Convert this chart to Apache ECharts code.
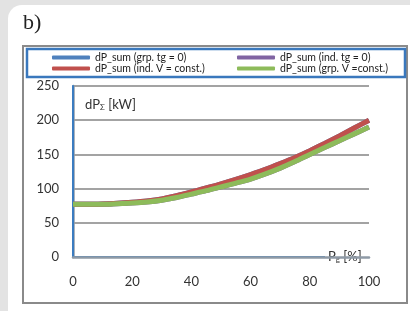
<!DOCTYPE html>
<html><head><meta charset="utf-8">
<script src="https://cdn.jsdelivr.net/npm/echarts@6/dist/echarts.min.js"></script>
<style>
html,body{margin:0;padding:0;background:#e3e3e3;width:410px;height:311px;overflow:hidden;}
#card{position:absolute;left:8px;top:5px;width:430px;height:340px;background:#fff;border-radius:14px;}
#c{position:absolute;left:0;top:0;width:410px;height:311px;}
</style></head>
<body><div id="card"></div><div id="c"></div>
<script>
const xValues = [0,5,10,15,20,25,30,35,40,45,50,55,60,65,70,75,80,85,90,95,100];
const grpTg0   = [77,77,77.5,78.5,80,82,85,89.5,95,101,107,113.5,120.5,128,136.5,145.5,155.5,166,177,188.5,200];
const indTg0   = [77,77,77,78,79,80.5,83,87,92,97,102.5,108,114,121.5,130,139.5,150,160,170,180,190];
const indVconst= [77,77,77.5,78.5,80,82,85,89.5,95,101,107,113.5,120.5,128,136.5,145.5,155.5,166,177,188.5,200];
const grpVconst= [77,77,77,78,79,80.5,83,87,92,97,102.5,108,114,121.5,130,139.5,150,160,170,180,190];
const seriesNames = ['dP_sum (grp. tg = 0)','dP_sum (ind. tg = 0)','dP_sum (ind. V = const.)','dP_sum (grp. V =const.)'];
const seriesColors = ['#4F81BD','#8064A2','#C0504D','#8DBB5A'];
const yTicks = [0,50,100,150,200,250];
const xTicks = [0,20,40,60,80,100];

const allData = [grpTg0, indTg0, indVconst, grpVconst];
const font = 'Lato';
const legPos = [[52,52],[237,52],[52,63],[237,63]];
const chart = echarts.init(document.getElementById('c'), null, {renderer:'canvas'});
chart.setOption({
  backgroundColor:'transparent',
  animation:false,
  textStyle:{fontFamily:font},
  grid:{left:73,right:41,top:86,bottom:54},
  legend: seriesNames.map((n,i)=>({
    data:[n],left:legPos[i][0],top:legPos[i][1],padding:0,itemWidth:38,itemHeight:4,icon:'roundRect',itemGap:0,
    textStyle:{fontSize:10.5,color:'#222',fontFamily:font,lineHeight:11}
  })),
  xAxis:[{
    type:'value',min:xTicks[0],max:xTicks[xTicks.length-1],interval:20,
    axisLine:{lineStyle:{color:'#8f9aa6',width:2.5}},
    axisTick:{show:false},splitLine:{show:false},
    axisLabel:{margin:18,fontSize:13,color:'#333',fontFamily:font},
    name:'{a|P}{s|g}{a| [%]}',nameLocation:'end',nameGap:-44,
    nameTextStyle:{backgroundColor:'#fff',padding:[4,30,4,3],
      rich:{a:{fontSize:13,color:'#333',fontFamily:font},s:{fontSize:8,color:'#333',fontFamily:font,verticalAlign:'bottom',padding:[5,0,0,0]}}},
    z:10
  },{
    type:'value',position:'top',min:0,max:100,
    axisLine:{show:true,lineStyle:{color:'#3b7cc0',width:2}},
    axisTick:{show:false},axisLabel:{show:false},splitLine:{show:false}
  }],
  yAxis:[{
    type:'value',min:yTicks[0],max:yTicks[yTicks.length-1],interval:50,
    axisLine:{show:true,lineStyle:{color:'#8f9aa6',width:2.5}},
    axisTick:{show:false},
    splitLine:{lineStyle:{color:'#a3a3a3',width:2}},
    axisLabel:{margin:14,fontSize:13,color:'#333',fontFamily:font},
    name:'{a|dP}{s|Σ}{a| [kW]}',nameLocation:'end',nameGap:-25,
    nameTextStyle:{align:'left',padding:[0,0,0,12],
      rich:{a:{fontSize:13,color:'#333',fontFamily:font},s:{fontSize:8,color:'#333',fontFamily:font,verticalAlign:'bottom',padding:[4,0,0,0]}}}
  },{
    type:'value',position:'right',min:0,max:250,z:1,
    axisLine:{show:true,lineStyle:{color:'#3b7cc0',width:2}},
    axisTick:{show:false},axisLabel:{show:false},splitLine:{show:false}
  }],
  graphic:[
    {type:'text',left:23,top:12,style:{text:'b)',font:'22px "Liberation Serif"',fill:'#222'}},
    {type:'rect',shape:{x:23,y:46,width:384,height:257},style:{fill:'none',stroke:'#8a8a8a',lineWidth:2},z:-1},
    {type:'rect',shape:{x:27,y:49,width:378,height:28},style:{fill:'none',stroke:'#3a78bd',lineWidth:2.5},z:-1}
  ],
  series: allData.map((d,i)=>({
    name:seriesNames[i],type:'line',showSymbol:false,smooth:0.3,
    data:xValues.map((x,j)=>[x,d[j]]),
    lineStyle:{width:5,color:seriesColors[i]},itemStyle:{color:seriesColors[i]},
    z:2+i
  }))
});
</script></body></html>
